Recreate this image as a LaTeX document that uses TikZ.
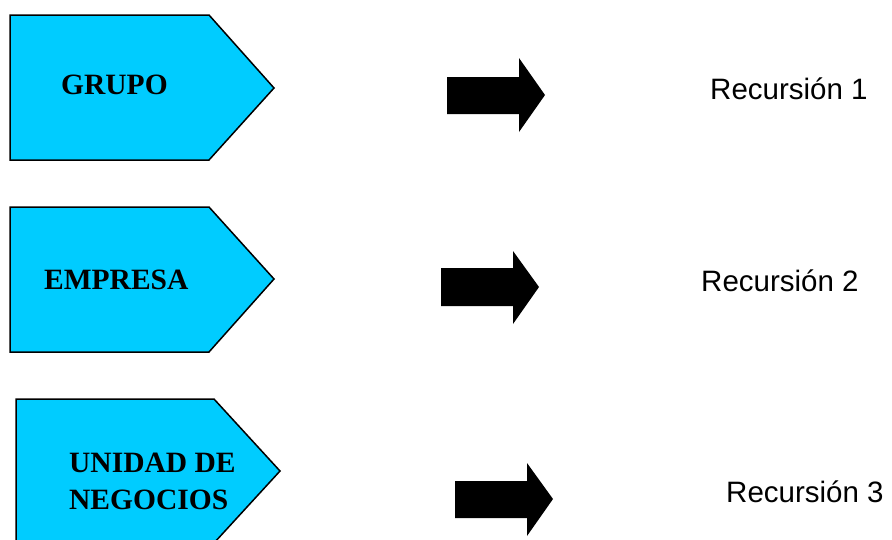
\documentclass[tikz,border=0pt]{standalone}
\usepackage{fontspec}
\setmainfont{Liberation Serif}
\newfontfamily\labelsans{Liberation Sans}
\begin{document}
\begin{tikzpicture}[x=1pt,y=-1pt,
  tag/.style={fill=tagcyan,draw=black,line width=1.5pt,line join=miter},
  blockarrow/.style={fill=black,draw=none},
  tagtext/.style={font=\fontsize{29.5}{37}\selectfont\bfseries,anchor=base west,inner sep=0pt},
  rectext/.style={font=\labelsans\fontsize{29.5}{35}\selectfont,anchor=base west,inner sep=0pt}]
\definecolor{tagcyan}{HTML}{00CCFF}
\useasboundingbox (0,0) rectangle (892,539);
\clip (0,0) rectangle (892,539);

% pentagon tags
\draw[tag] (10,15) -- (209,15) -- (274,88) -- (209,160) -- (10,160) -- cycle;
\draw[tag] (10,207) -- (209,207) -- (274,279) -- (209,352) -- (10,352) -- cycle;
\draw[tag] (16,399) -- (214,399) -- (280,471) -- (214,543) -- (16,543) -- cycle;

\node[tagtext] (grupo) at (61,94) {GRUPO};
\node[tagtext] (empresa) at (44,289) {EMPRESA};
\node[tagtext] (unidad) at (69,472) {UNIDAD DE};
\node[tagtext] (negocios) at (69,509) {NEGOCIOS};

% block arrows
\fill[blockarrow] (447,77) -- (519,77) -- (519,58) -- (545,95) -- (519,132) -- (519,114) -- (447,114) -- cycle;
\fill[blockarrow] (441,268) -- (513,268) -- (513,251) -- (539,287) -- (513,324) -- (513,306) -- (441,306) -- cycle;
\fill[blockarrow] (455,481) -- (527,481) -- (527,463) -- (553,499) -- (527,536) -- (527,518) -- (455,518) -- cycle;

% labels
\node[rectext] (rec1) at (710,99) {Recursión 1};
\node[rectext] (rec2) at (701,291) {Recursión 2};
\node[rectext] (rec3) at (726,502) {Recursión 3};
\end{tikzpicture}
\end{document}
